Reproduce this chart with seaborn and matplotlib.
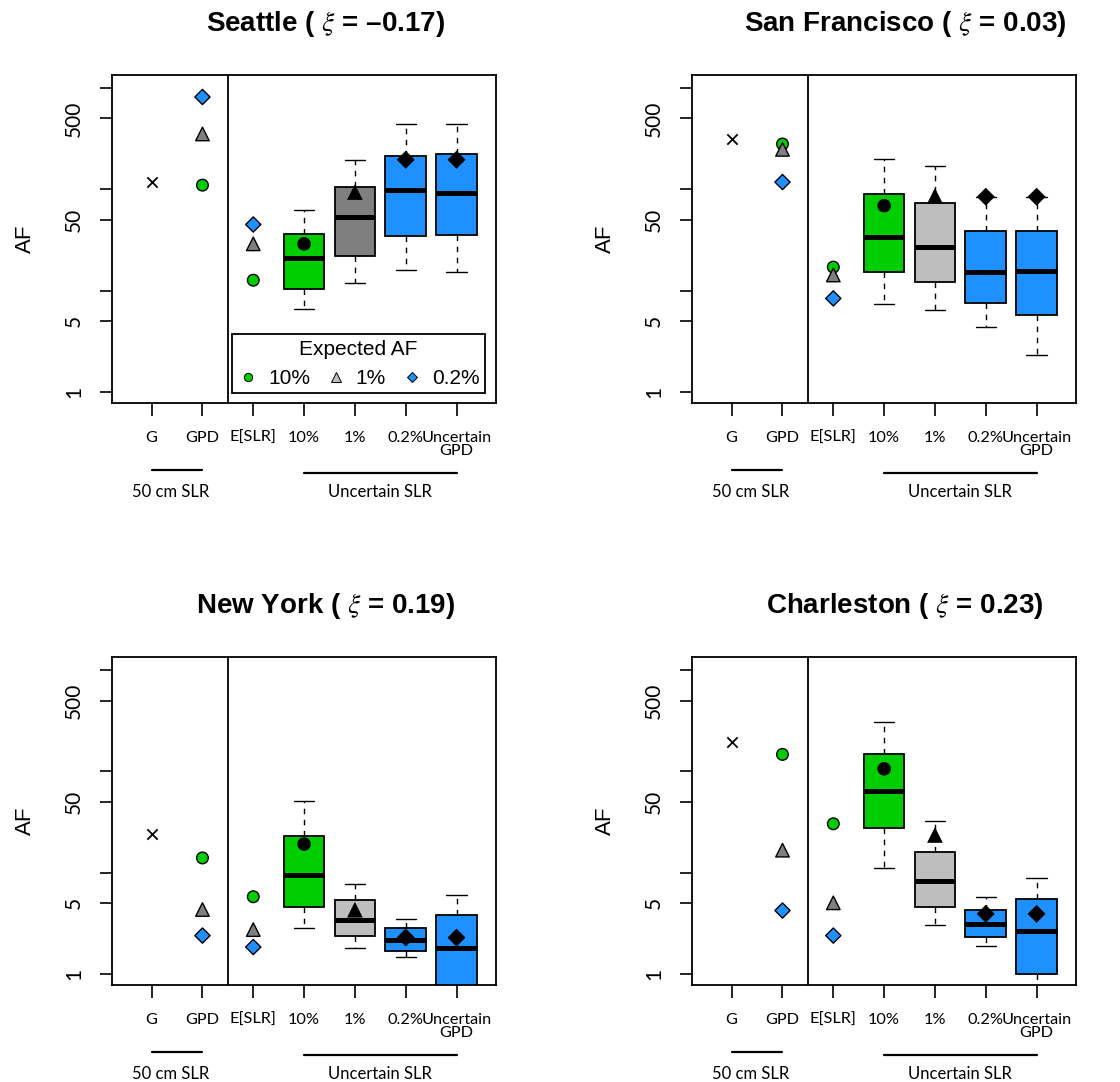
import numpy as np
import pandas as pd
import seaborn as sns
import matplotlib.pyplot as plt
import matplotlib.transforms as mtransforms
from matplotlib.lines import Line2D
from matplotlib.ticker import NullLocator, FixedLocator

sns.set_style("ticks")
plt.rcParams['font.family'] = ['Lato', 'DejaVu Sans']
plt.rcParams['mathtext.fontset'] = 'stix'
plt.rcParams['text.color'] = 'black'

# chart data
cities = ['Seattle', 'San Francisco', 'New York', 'Charleston']
xi_vals = ['\u20130.17', '0.03', '0.19', '0.23']
x_labels = ['G', 'GPD', 'E[SLR]', '10%', '1%', '0.2%', 'Uncertain\nGPD']
levels = ['10%', '1%', '0.2%']
box_names = ['10%', '1%', '0.2%', 'Uncertain GPD']
box_levels = ['10%', '1%', '0.2%', '0.2%']

# AF from Gaussian (G) and GPD fits under 50 cm SLR
g_af = [117, 312, 24, 194]
gpd_af = [[110, 352, 815], [280, 248, 118], [14, 4.34, 2.4], [147, 16.7, 4.24]]
# AF using expected SLR
eslr_af = [[12.7, 29, 45], [17.1, 14.3, 8.4], [5.8, 2.75, 1.85], [30.4, 5.05, 2.4]]

# five-number summaries per box (low whisker, q1, median, q3, high whisker)
seattle_boxes = [[6.6, 10.5, 21.1, 36.5, 63], [11.8, 22.1, 53.3, 105, 195],
                 [16, 34.4, 97.8, 215, 438], [15.4, 35.2, 92.7, 225, 438]]
sf_boxes = [[7.4, 15.2, 33.6, 90, 198], [6.4, 12.3, 26.8, 73.8, 169],
            [4.38, 7.6, 15.2, 38.8, 84.6], [2.3, 5.7, 15.6, 38.8, 84.6]]
ny_boxes = [[2.85, 4.57, 9.4, 23, 51], [1.81, 2.35, 3.45, 5.4, 7.8],
            [1.46, 1.70, 2.19, 2.83, 3.5], [0.3, 0.5, 1.81, 3.87, 6.05]]
chs_boxes = [[11.2, 27.5, 64.4, 147, 310], [3.08, 4.57, 8.2, 16, 32.7],
             [1.91, 2.32, 3.1, 4.27, 5.8], [0.4, 1.0, 2.69, 5.53, 8.8]]
all_boxes = [seattle_boxes, sf_boxes, ny_boxes, chs_boxes]
# expected AF (mean) under uncertain SLR
box_means = [[29, 93.5, 196, 196], [69, 86, 84.6, 84.6],
             [19.2, 4.3, 2.3, 2.29], [106, 23.5, 3.93, 3.93]]

green = '#00CD00'
blue = '#1E90FF'
grey_dark = '#7F7F7F'
grey_light = '#BEBEBE'
one_pct_box = [grey_dark, grey_light, grey_light, grey_light]

pt_colors = {'10%': green, '1%': grey_dark, '0.2%': blue}
pt_markers = {'10%': 'o', '1%': '^', '0.2%': 'D'}
pt_sizes = {'10%': 70, '1%': 95, '0.2%': 60}

fig = plt.figure(figsize=(11.2, 10.82), dpi=100)
boxes_pos = [[0.1, 0.6275], [0.6179, 0.6275], [0.1, 0.0896], [0.6179, 0.0896]]

for i, city in enumerate(cities):
    ax = fig.add_axes([boxes_pos[i][0], boxes_pos[i][1], 0.343, 0.3031])
    ax.set_yscale('log')

    rows = []
    for pos, name, stats in zip([4, 5, 6, 7], box_names, all_boxes[i]):
        for v in stats:
            rows.append((pos, name, v))
    bdf = pd.DataFrame(rows, columns=['pos', 'box', 'af'])
    pal = {'10%': green, '1%': one_pct_box[i], '0.2%': blue, 'Uncertain GPD': blue}
    sns.boxplot(data=bdf, x='pos', y='af', hue='box', palette=pal, native_scale=True,
                dodge=False, width=0.8, whis=(0, 100), saturation=1,
                linecolor='black', linewidth=1.3, legend=False, ax=ax,
                medianprops=dict(color='black', linewidth=3.6),
                whiskerprops=dict(color='black', linewidth=1.0, linestyle=(0, (4, 4))),
                capprops=dict(color='black', linewidth=1.0))

    pts = pd.DataFrame({'pos': [2] * 3 + [3] * 3,
                        'af': gpd_af[i] + eslr_af[i],
                        'level': levels * 2})
    sns.scatterplot(data=pts, x='pos', y='af', hue='level', style='level', size='level',
                    palette=pt_colors, markers=pt_markers, sizes=pt_sizes,
                    edgecolor='black', linewidth=1.0, legend=False, ax=ax, zorder=4)

    mdf = pd.DataFrame({'pos': [4, 5, 6, 7], 'af': box_means[i], 'level': box_levels})
    sns.scatterplot(data=mdf, x='pos', y='af', style='level', size='level',
                    markers=pt_markers, sizes={'10%': 85, '1%': 110, '0.2%': 75},
                    color='black', edgecolor='black', linewidth=0.5,
                    legend=False, ax=ax, zorder=5)

    sns.scatterplot(x=[1], y=[g_af[i]], marker='x', color='black', s=55,
                    linewidth=1.3, legend=False, ax=ax, zorder=4)

    ax.axvline(2.5, color='black', linewidth=1.3)

    ax.set_xlim(0.22, 7.78)
    ax.set_ylim(0.78, 1340)
    ax.yaxis.set_major_locator(FixedLocator([1, 5, 10, 50, 100, 500, 1000]))
    ax.yaxis.set_minor_locator(NullLocator())
    ax.set_yticklabels(['1', '5', '', '50', '', '500', ''], rotation=90, va='center',
                       fontsize=15)
    ax.set_xticks(range(1, 8))
    ax.set_xticklabels(x_labels, fontsize=11.7, linespacing=0.95)
    ax.tick_params(axis='both', length=9, width=1.2, color='black', labelcolor='black')
    ax.tick_params(axis='y', pad=11)
    ax.tick_params(axis='x', pad=11)
    ax.set_xlabel('')
    ax.set_ylabel('AF', fontsize=16, family='Liberation Sans', color='black')
    ax.yaxis.set_label_coords(-0.198, 0.5)
    for sp in ax.spines.values():
        sp.set_visible(True)
        sp.set_color('black')
        sp.set_linewidth(1.3)

    ax.text(0.555, 1.155, city + ' ( $\\xi$ = ' + xi_vals[i] + ')', transform=ax.transAxes,
            ha='center', va='center', fontsize=20, fontweight='bold',
            family='Liberation Sans', color='black')

    trans = mtransforms.blended_transform_factory(ax.transData, ax.transAxes)
    ax.plot([1, 2], [-0.203, -0.203], transform=trans, clip_on=False, color='black', lw=1.6)
    ax.plot([4, 7], [-0.212, -0.212], transform=trans, clip_on=False, color='black', lw=1.6)
    ax.text(1.38, -0.272, '50 cm SLR', transform=trans, ha='center', va='center', fontsize=12)
    ax.text(5.5, -0.272, 'Uncertain SLR', transform=trans, ha='center', va='center', fontsize=12)

    if i == 0:
        handles = [Line2D([], [], marker='o', linestyle='none', markerfacecolor=green,
                          markeredgecolor='black', markersize=6, markeredgewidth=0.7),
                   Line2D([], [], marker='^', linestyle='none', markerfacecolor=grey_light,
                          markeredgecolor='black', markersize=6.5, markeredgewidth=0.7),
                   Line2D([], [], marker='D', linestyle='none', markerfacecolor=blue,
                          markeredgecolor='black', markersize=5, markeredgewidth=0.7)]
        leg = ax.legend(handles, levels, ncol=3, title='Expected AF', loc='lower right',
                        bbox_to_anchor=(0.97, 0.03),
                        prop={'family': 'Liberation Sans', 'size': 15},
                        title_fontproperties={'family': 'Liberation Sans', 'size': 15},
                        frameon=True, fancybox=False, edgecolor='black', framealpha=1,
                        borderpad=0.25, handletextpad=0.45, columnspacing=0.75,
                        handlelength=1.0, borderaxespad=0, labelcolor='black')
        leg.get_frame().set_linewidth(1.3)

fig.savefig('out.png', dpi=100)
